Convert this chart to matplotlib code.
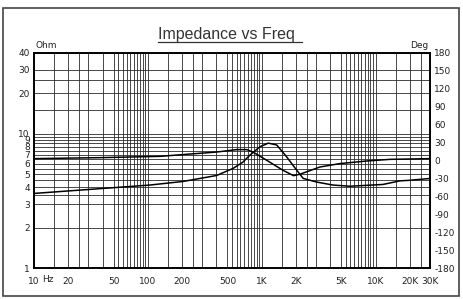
import matplotlib
matplotlib.use("Agg")
import matplotlib.pyplot as plt
from matplotlib.patches import Rectangle
from matplotlib.lines import Line2D
from matplotlib.ticker import NullFormatter

# impedance curve (left axis, ohm)
imp_freq = [10, 38, 128, 203, 402, 602, 737, 837, 1104, 1535, 1900, 2164, 3243, 4856, 8330, 13340, 30000]
imp_ohm = [6.53, 6.64, 6.79, 7.0, 7.31, 7.62, 7.62, 7.31, 6.35, 5.35, 4.88, 5.0, 5.66, 6.0, 6.27, 6.45, 6.53]

# phase curve (right axis, degrees)
ph_freq = [10, 38, 104, 203, 402, 562, 680, 787, 965, 1140, 1352, 1655, 2024, 2313, 3035, 4220, 5953, 11590, 16340, 20000, 30000]
ph_deg = [-55, -47, -41, -35, -25, -13, -3, 9, 23, 29, 26, 6, -16, -30, -36, -41, -43, -40, -34, -33, -30]

# axis ticks and grid
freq_ticks = [10, 20, 50, 100, 200, 500, 1000, 2000, 5000, 10000, 20000, 30000]
freq_labels = ['10', '20', '50', '100', '200', '500', '1K', '2K', '5K', '10K', '20K', '30K']
decade_steps = [1, 1.5, 2, 2.5, 3, 4, 5, 5.5, 6, 6.5, 7, 7.5, 8, 8.5, 9, 9.5]
freq_grid = [d * m for d in [10, 100, 1000, 10000] for m in decade_steps if d * m <= 30000]
ohm_ticks = [1, 2, 3, 4, 5, 6, 7, 8, 9, 10, 20, 30, 40]
ohm_grid = [1, 2, 3, 3.5, 4, 4.5, 5, 5.5, 6, 6.5, 7, 7.5, 8, 8.5, 9, 9.5, 10, 15, 20, 25, 30, 40]
deg_ticks = list(range(-180, 181, 30))

W, H = 463, 299
fig = plt.figure(figsize=(W / 100, H / 100), dpi=100)
ax = fig.add_axes([34 / W, (H - 268.3) / H, (430 - 34) / W, (268.3 - 52.7) / H])

ax.set_xscale('log')
ax.set_yscale('log')
ax.set_xlim(10, 30000)
ax.set_ylim(1, 40)
ax.xaxis.remove_overlapping_locs = False
ax.yaxis.remove_overlapping_locs = False
ax.set_xticks(freq_ticks, freq_labels)
ax.set_xticks(freq_grid, minor=True)
ax.set_yticks(ohm_ticks, [str(v) for v in ohm_ticks])
ax.set_yticks(ohm_grid, minor=True)
ax.xaxis.set_minor_formatter(NullFormatter())
ax.yaxis.set_minor_formatter(NullFormatter())
ax.grid(which='minor', color='#2a2a2a', lw=0.6)
ax.tick_params(which='both', length=0, labelsize=6.5, colors='#222222')
ax.tick_params(axis='x', pad=6)
ax.tick_params(axis='y', pad=3)

ax.plot(imp_freq, imp_ohm, color='black', lw=1.1)

ax2 = ax.twinx()
ax2.set_ylim(-180, 180)
ax2.set_yticks(deg_ticks, [str(v) for v in deg_ticks])
ax2.tick_params(length=0, labelsize=6.5, colors='#222222', pad=3)
ax2.plot(ph_freq, ph_deg, color='black', lw=1.1)

for a in (ax, ax2):
    for s in a.spines.values():
        s.set_linewidth(1.2)

fig.text(42 / W, 1 - 280 / H, 'Hz', fontsize=6.5, color='#222222', ha='left', va='center')
fig.text(36 / W, 1 - 46 / H, 'Ohm', fontsize=6.5, color='#222222', ha='left', va='center')
fig.text(428 / W, 1 - 45 / H, 'Deg', fontsize=6.5, color='#222222', ha='right', va='center')

fig.text(158 / W, 1 - 35 / H, 'Impedance vs Freq', fontsize=11.5, family='Liberation Sans',
         color='#333333', ha='left', va='center')
fig.add_artist(Line2D([158 / W, 302 / W], [1 - 41.7 / H, 1 - 41.7 / H], color='#333333', lw=0.9))

fig.add_artist(Rectangle((3 / W, 1 - 296 / H), (459 - 3) / W, (296 - 8) / H, transform=fig.transFigure,
                         fill=False, ec='#444444', lw=1.2))

fig.savefig('out.png', dpi=100)
